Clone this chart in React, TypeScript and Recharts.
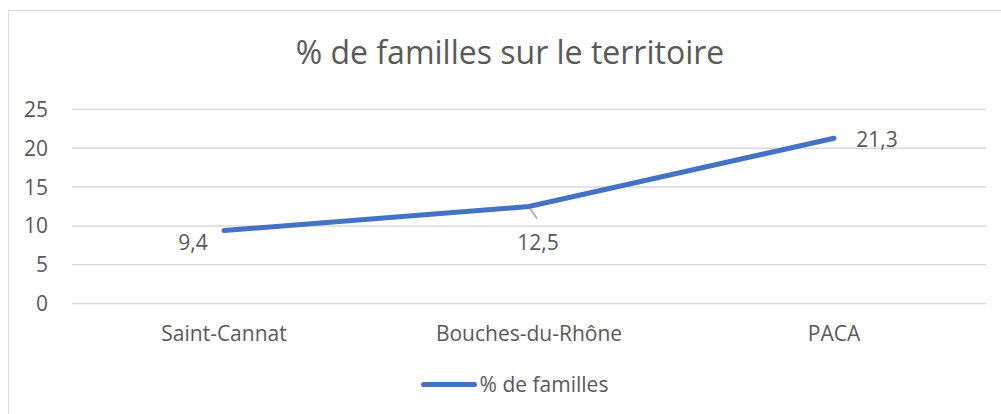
import React from "react";
import {
    LineChart,
    Line,
    XAxis,
    YAxis,
    CartesianGrid,
    Legend,
    LabelList
} from "recharts";

const categories = ["Saint-Cannat", "Bouches-du-Rhône", "PACA"];
const familles = [9.4, 12.5, 21.3];
const yTicks = [0, 5, 10, 15, 20, 25];

const SERIES_NAME = "% de familles";
const TITLE = "% de familles sur le territoire";

const data = categories.map((name, i) => ({ name, familles: familles[i] }));

const FONT = "'Open Sans', sans-serif";
const TEXT = "#595959";
const BLUE = "#4472C4";

// label placement per point, relative to the point (Excel-like)
const labelOffsets = [
    { dx: -31, dy: 11 },
    { dx: 9, dy: 35 },
    { dx: 43, dy: 1 }
];

function PointLabel(props: any) {
    const { x, y, value, index } = props;
    const off = labelOffsets[index] || { dx: 0, dy: 0 };
    return (
        <g>
            {index === 1 && (
                <line x1={x + 1} y1={y + 2} x2={x + 8} y2={y + 12} stroke="#a6a6a6" strokeWidth={1.5} />
            )}
            <text
                x={x + off.dx}
                y={y + off.dy}
                textAnchor="middle"
                dominantBaseline="central"
                fill={TEXT}
                fontSize={21}
                fontFamily={FONT}
            >
                {String(value).replace(".", ",")}
            </text>
        </g>
    );
}

function LegendContent() {
    return (
        <div style={{ display: "flex", justifyContent: "center", alignItems: "center", fontFamily: FONT, paddingLeft: 43 }}>
            <div style={{ width: 56, height: 5, borderRadius: 3, background: BLUE, marginRight: 3 }}></div>
            <span style={{ fontSize: 21, color: TEXT }}>{SERIES_NAME}</span>
        </div>
    );
}

export default function App() {
    return (
        <div style={{ position: "absolute", left: 0, top: 0, width: 1001, height: 414, overflow: "hidden", background: "#fff" }}>
            <div style={{ position: "absolute", left: 8, top: 10, width: 1100, height: 500, border: "1.5px solid #d9d9d9" }}></div>
            <div
                style={{
                    position: "absolute",
                    left: 0,
                    width: 1020,
                    top: 30,
                    textAlign: "center",
                    fontFamily: FONT,
                    fontSize: 32,
                    lineHeight: "normal",
                    color: TEXT
                }}
            >
                {TITLE}
            </div>
            <div style={{ position: "absolute", left: 0, top: 0 }}>
                <LineChart width={1001} height={414} data={data} margin={{ top: 109.5, right: 15, left: 0, bottom: 32.5 }}>
                    <CartesianGrid vertical={false} stroke="#d9d9d9" strokeWidth={1.5} />
                    <XAxis
                        dataKey="name"
                        axisLine={false}
                        tickLine={false}
                        tickSize={0}
                        tickMargin={23}
                        padding={{ left: 152, right: 152 }}
                        height={50}
                        tick={{ fill: TEXT, fontSize: 21, fontFamily: FONT }}
                    />
                    <YAxis
                        domain={[0, 25]}
                        ticks={yTicks}
                        axisLine={false}
                        tickLine={false}
                        tickSize={0}
                        tickMargin={24}
                        width={72}
                        tick={{ fill: TEXT, fontSize: 21, fontFamily: FONT }}
                    />
                    <Legend
                        content={<LegendContent />}
                        verticalAlign="bottom"
                        wrapperStyle={{ bottom: 16 }}
                    />
                    <Line
                        type="linear"
                        dataKey="familles"
                        name={SERIES_NAME}
                        stroke={BLUE}
                        strokeWidth={5}
                        strokeLinecap="round"
                        dot={false}
                        activeDot={false}
                        isAnimationActive={false}
                    >
                        <LabelList dataKey="familles" content={<PointLabel />} />
                    </Line>
                </LineChart>
            </div>
        </div>
    );
}
